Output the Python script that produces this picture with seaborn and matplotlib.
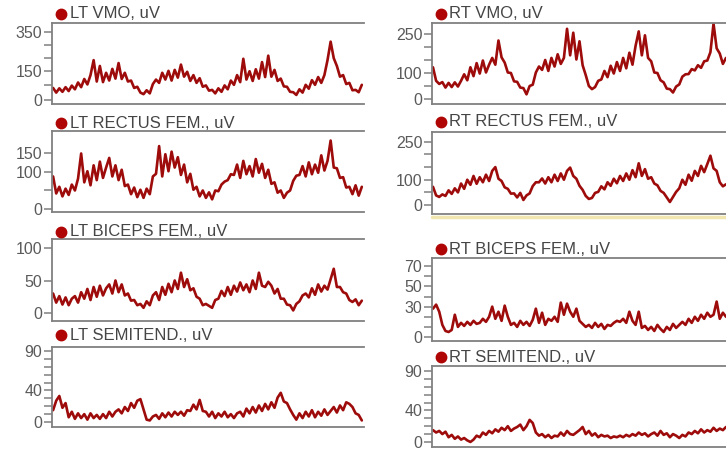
import numpy as np
import matplotlib
matplotlib.use("Agg")
import matplotlib.pyplot as plt
from matplotlib.lines import Line2D
import seaborn as sns

# ---------------- data (uV) ----------------
titles_left = ["LT VMO, uV", "LT RECTUS FEM., uV", "LT BICEPS FEM., uV", "LT SEMITEND., uV"]
titles_right = ["RT VMO, uV", "RT RECTUS FEM., uV", "RT BICEPS FEM., uV", "RT SEMITEND., uV"]

lt_vmo = [62, 38, 60, 42, 66, 46, 74, 55, 90, 66,
          108, 80, 128, 205, 95, 175, 92, 140, 100, 160,
          110, 190, 108, 140, 95, 100, 62, 68, 38, 30,
          50, 34, 82, 105, 88, 140, 105, 150, 100, 155,
          115, 182, 120, 145, 98, 128, 88, 112, 68, 75,
          48, 52, 34, 60, 42, 75, 55, 100, 78, 128,
          92, 212, 105, 148, 98, 158, 110, 195, 118, 228,
          120, 155, 98, 110, 70, 68, 42, 40, 26, 55,
          38, 78, 58, 102, 78, 118, 88, 128, 205, 300,
          215, 175, 120, 128, 82, 88, 50, 52, 40, 78]
lt_rectus = [88, 42, 60, 34, 55, 38, 66, 50, 82, 150,
             72, 102, 64, 118, 78, 128, 84, 112, 138, 88,
             118, 78, 106, 62, 66, 40, 58, 32, 52, 30,
             55, 40, 88, 95, 170, 88, 148, 102, 155, 112,
             140, 92, 120, 72, 95, 52, 60, 34, 50, 30,
             45, 26, 50, 48, 66, 74, 78, 94, 92, 120,
             84, 130, 94, 116, 88, 135, 98, 122, 84, 106,
             68, 72, 44, 50, 30, 44, 50, 76, 90, 92,
             116, 88, 126, 94, 120, 98, 145, 104, 130, 185,
             112, 110, 84, 86, 58, 60, 40, 64, 36, 60]
lt_biceps = [30, 16, 26, 13, 24, 12, 22, 26, 16, 32,
             22, 37, 20, 40, 25, 42, 27, 38, 44, 30,
             50, 32, 44, 27, 30, 19, 20, 12, 14, 8,
             18, 12, 27, 32, 20, 40, 28, 45, 32, 50,
             37, 62, 40, 52, 35, 38, 25, 22, 12, 14,
             11, 8, 20, 22, 34, 26, 40, 28, 42, 33,
             47, 35, 44, 32, 50, 37, 62, 42, 40, 48,
             42, 30, 37, 22, 22, 13, 12, 4, 14, 18,
             27, 30, 24, 38, 28, 44, 33, 42, 36, 52,
             68, 40, 40, 32, 30, 20, 17, 21, 12, 19]
lt_semitend = [15, 27, 33, 18, 24, 6, 13, 4, 11, 5,
               10, 3, 11, 5, 9, 4, 10, 5, 13, 7,
               13, 16, 11, 19, 14, 24, 18, 27, 29, 16,
               3, 2, 7, 9, 4, 11, 6, 12, 7, 13,
               9, 13, 8, 15, 14, 22, 16, 28, 14, 13,
               7, 13, 5, 11, 7, 13, 6, 10, 5, 11,
               13, 7, 17, 11, 19, 12, 21, 14, 23, 16,
               25, 18, 31, 37, 26, 24, 16, 9, 3, 11,
               5, 13, 7, 15, 6, 13, 8, 16, 9, 14,
               19, 12, 21, 15, 25, 23, 19, 11, 9, 2]

rt_vmo = [122, 70, 58, 65, 44, 62, 46, 64, 48, 70,
          95, 72, 122, 88, 138, 98, 148, 102, 132, 158,
          132, 225, 160, 140, 102, 100, 68, 66, 44, 42,
          18, 50, 55, 102, 125, 112, 150, 108, 158, 125,
          172, 135, 158, 270, 168, 255, 152, 222, 130, 92,
          50, 38, 46, 70, 75, 108, 84, 128, 98, 142,
          108, 158, 118, 178, 132, 205, 260, 168, 245, 158,
          145, 102, 100, 72, 64, 40, 38, 25, 48, 56,
          86, 95, 96, 115, 110, 130, 120, 145, 148, 180,
          290, 195, 175, 135, 158]
rt_rectus = [72, 38, 32, 42, 36, 58, 44, 66, 50, 85,
             64, 100, 80, 115, 84, 110, 90, 120, 95, 135,
             150, 104, 95, 70, 64, 45, 46, 30, 48, 20,
             38, 46, 75, 90, 90, 105, 85, 110, 90, 120,
             95, 125, 100, 135, 148, 115, 104, 76, 60, 36,
             24, 28, 48, 52, 74, 62, 90, 76, 104, 86,
             115, 95, 125, 100, 138, 110, 165, 115, 142, 104,
             110, 85, 78, 56, 48, 30, 12, 32, 52, 66,
             100, 80, 120, 96, 135, 115, 155, 130, 162, 195,
             145, 135, 90, 74, 82]
rt_biceps = [28, 32, 25, 12, 6, 5, 7, 22, 10, 14,
             11, 15, 12, 16, 13, 14, 18, 15, 20, 30,
             18, 25, 16, 31, 20, 12, 14, 10, 16, 12,
             15, 11, 17, 28, 14, 24, 12, 18, 16, 20,
             15, 34, 22, 33, 25, 20, 28, 16, 13, 10,
             12, 9, 14, 10, 13, 8, 12, 11, 14, 16,
             15, 18, 14, 25, 16, 12, 25, 9, 11, 7,
             10, 6, 12, 8, 5, 10, 7, 13, 9, 12,
             15, 12, 18, 14, 20, 16, 22, 18, 24, 20,
             22, 35, 18, 24, 20]
rt_semitend = [15, 12, 14, 10, 13, 6, 9, 4, 7, 3,
               5, 2, 0, 3, 8, 6, 12, 9, 14, 11,
               16, 13, 18, 15, 20, 14, 17, 19, 22, 15,
               20, 28, 24, 12, 8, 10, 6, 9, 5, 8,
               7, 12, 8, 14, 10, 9, 12, 15, 19, 10,
               14, 8, 11, 6, 9, 7, 8, 5, 7, 6,
               8, 6, 9, 7, 10, 8, 12, 9, 11, 7,
               10, 12, 8, 14, 9, 11, 6, 10, 8, 5,
               9, 7, 12, 10, 14, 11, 16, 12, 15, 13,
               18, 14, 17, 15, 19]

# tick values and labels
lt_vmo_ticks = [0, 75, 150, 217, 283, 350]
lt_vmo_labels = ["0", "", "150", "", "", "350"]
lt_rectus_ticks = [0, 50, 100, 150]
lt_rectus_labels = ["0", "", "100", "150"]
lt_biceps_ticks = [0, 50, 100]
lt_biceps_labels = ["0", "50", "100"]
semitend_ticks = [0, 10, 20, 30, 40, 50, 60, 70, 80, 90]
semitend_labels = ["0", "", "", "", "40", "", "", "", "", "90"]
rt_vmo_ticks = [0, 50, 100, 150, 200, 250]
rt_vmo_labels = ["0", "", "100", "", "", "250"]
rt_rectus_ticks = [0, 50, 100, 150, 200, 250]
rt_rectus_labels = ["0", "", "100", "", "", "250"]
rt_biceps_ticks = [0, 10, 20, 30, 40, 50, 60, 70]
rt_biceps_labels = ["0", "", "", "30", "", "50", "", "70"]

# ---------------- styling ----------------
sns.set_style("white")
plt.rcParams["font.family"] = ["Liberation Sans", "DejaVu Sans"]

W, H = 726, 450
fig = plt.figure(figsize=(W / 100, H / 100), dpi=100)
fig.patch.set_facecolor("white")

TRACE = "#9e0b0b"
DOT = "#b00505"
SPINE = "#808080"
TEXT = "#454545"
TICKTXT = "#5a5a5a"


def px_axes(left, top, right, bottom):
    return fig.add_axes([left / W, 1 - bottom / H, (right - left) / W, (bottom - top) / H])


panels = [
    (lt_vmo, lt_vmo_ticks, lt_vmo_labels, (52, 23, 364, 104), (-20.6, 396), titles_left[0], (61, 14), (-0.35, 99.7)),
    (lt_rectus, lt_rectus_ticks, lt_rectus_labels, (52, 131, 364, 211.5), (-6.8, 210.8), titles_left[1], (61, 123), (-0.35, 99.7)),
    (lt_biceps, lt_biceps_ticks, lt_biceps_labels, (52, 239, 364, 320.7), (-11.8, 113.8), titles_left[2], (61, 232), (-0.35, 99.7)),
    (lt_semitend, semitend_ticks, semitend_labels, (52, 346.7, 364, 427), (-6.3, 95.4), titles_left[3], (61, 335), (-0.35, 99.7)),
    (rt_vmo, rt_vmo_ticks, rt_vmo_labels, (432, 22.7, 726, 104), (-19.2, 293.5), titles_right[0], (440.5, 13.5), (-0.32, 94)),
    (rt_rectus, rt_rectus_ticks, rt_rectus_labels, (432, 131.7, 726, 214), (-35.5, 290), titles_right[1], (440.5, 121.5), (-0.32, 94)),
    (rt_biceps, rt_biceps_ticks, rt_biceps_labels, (432, 258, 726, 341), (-3.9, 78), titles_right[2], (440.5, 249), (-0.32, 94)),
    (rt_semitend, semitend_ticks, semitend_labels, (432, 365.7, 726, 446.7), (-6.0, 96.7), titles_right[3], (440.5, 357), (-0.32, 94)),
]

for vals, ticks, labels, box, ylim, title, txy, xlim in panels:
    ax = px_axes(*box)
    x = np.arange(len(vals))
    sns.lineplot(x=x, y=vals, ax=ax, color=TRACE, linewidth=1.9, estimator=None)
    ax.set_xlim(*xlim)
    ax.set_ylim(*ylim)
    ax.set_xticks([])
    ax.set_yticks(ticks)
    ax.set_yticklabels(labels)
    ax.set_xlabel("")
    ax.set_ylabel("")
    ax.tick_params(axis="y", direction="out", length=6, width=1.1, color=SPINE,
                   labelcolor=TICKTXT, labelsize=11.5, pad=1, left=True)
    for side in ["top", "left", "bottom"]:
        ax.spines[side].set_visible(True)
        ax.spines[side].set_color(SPINE)
        ax.spines[side].set_linewidth(1.3)
    ax.spines["right"].set_visible(False)
    ax.set_facecolor("none")

    dx, dy = txy
    fig.add_artist(Line2D([dx / W], [1 - dy / H], marker="o", markersize=7.5,
                          color=DOT, linestyle="none", transform=fig.transFigure))
    fig.text((dx + 8.5) / W, 1 - dy / H, title, fontsize=12, color=TEXT,
             ha="left", va="center")

# pale yellow band under the RT RECTUS panel
fig.add_artist(Line2D([432 / W, 1.0], [1 - 217 / H, 1 - 217 / H], color="#f1e6b0",
                      linewidth=2.5, transform=fig.transFigure))

fig.savefig("out.png", dpi=100)
